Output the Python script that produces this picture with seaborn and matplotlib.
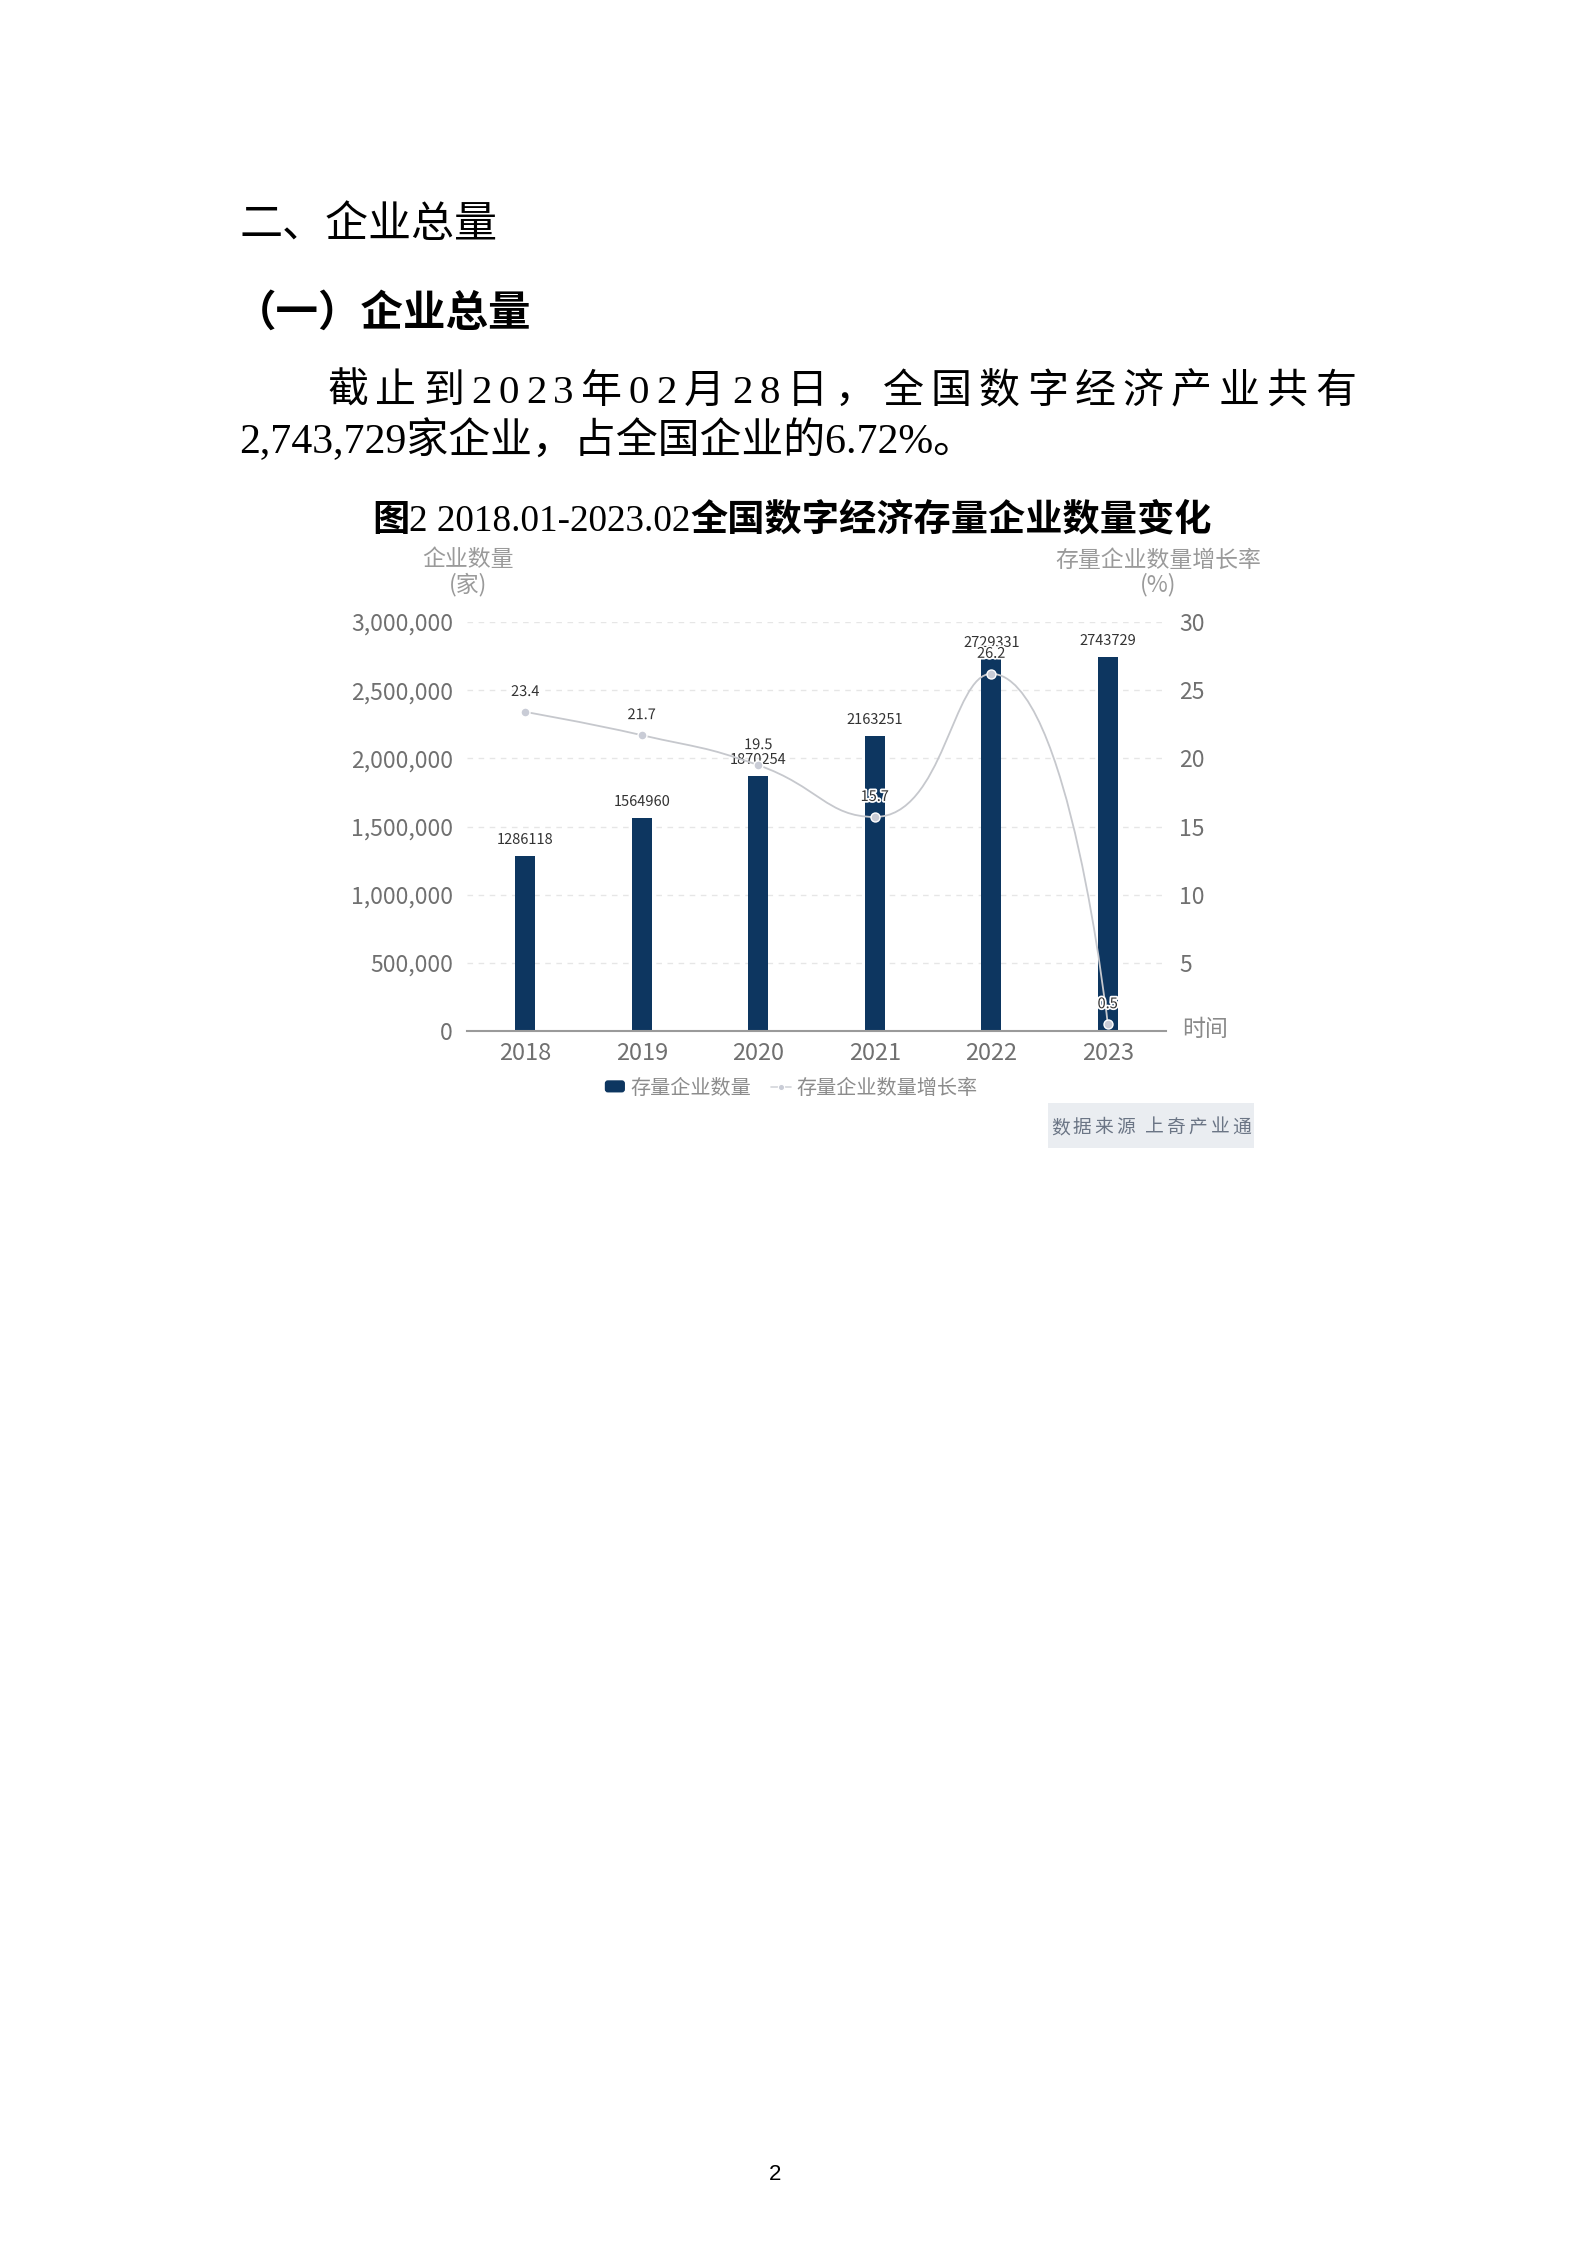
import numpy as np
import pandas as pd
import matplotlib
matplotlib.use("Agg")
import matplotlib.pyplot as plt
import seaborn as sns
from matplotlib.path import Path
from matplotlib.patches import PathPatch, Rectangle, FancyBboxPatch, Patch
from matplotlib.lines import Line2D
from matplotlib.legend_handler import HandlerPatch
import matplotlib.patheffects as pe
from matplotlib.ticker import FuncFormatter

# ---------------- data ----------------
years = ["2018", "2019", "2020", "2021", "2022", "2023"]
stock_counts = [1286118, 1564960, 1870254, 2163251, 2729331, 2743729]
growth_rates = [23.4, 21.7, 19.5, 15.7, 26.2, 0.5]
left_ticks = [0, 500000, 1000000, 1500000, 2000000, 2500000, 3000000]
right_ticks = [0, 5, 10, 15, 20, 25, 30]
bar_name = "存量企业数量"
line_name = "存量企业数量增长率"
left_axis_name = ["企业数量", "(家)"]
right_axis_name = ["存量企业数量增长率", "(%)"]
x_axis_name = "时间"
chart_title_parts = ["图", "2 2018.01-2023.02", "全国数字经济存量企业数量变化"]
heading1 = "二、企业总量"
heading2 = "（一）企业总量"
para_line1 = "截止到2023年02月28日，全国数字经济产业共有"
para_line2 = "2,743,729家企业，占全国企业的6.72%。"
source_text = "数据来源 上奇产业通"
page_no = "2"

# ---------------- style ----------------
BAR = "#0d3660"
LINE = "#c6c8cd"
MARK = "#c9ccd6"
TICK = "#707070"
NAME = "#9a9a9a"

W, H = 1586, 2244
sns.set_theme(style="white")
plt.rcParams["font.family"] = ["Noto Sans CJK SC", "DejaVu Sans"]
plt.rcParams["axes.unicode_minus"] = False

fig = plt.figure(figsize=(W / 100, H / 100), dpi=100, facecolor="white")


def fx(x):
    return x / W


def fy(y):
    return 1 - y / H


renderer = fig.canvas.get_renderer()
SERIF_CJK = ["Liberation Serif", "Noto Sans CJK SC"]


def ink_width(s, kw):
    t = fig.text(0, 0, s, **kw)
    w = t.get_window_extent(renderer=renderer).width
    t.remove()
    return w


def advance(s, kw):
    return ink_width("|" + s + "|", kw) - ink_width("||", kw)


def place_runs(units, x, y_base, gap=0.0, target=None, center=False):
    advs = [advance(s, kw) for s, kw in units]
    n = len(units)
    if target is not None and n > 1:
        gap = (target - sum(advs)) / (n - 1)
    total = sum(advs) + gap * (n - 1)
    x0 = x - total / 2 if center else x
    for (s, kw), a in zip(units, advs):
        fig.text(fx(x0), fy(y_base), s, ha="left", va="baseline", **kw)
        x0 += a + gap


# ---------------- page text ----------------
fig.text(fx(240), fy(237), heading1, ha="left", va="baseline", fontsize=31,
         color="black", family=["Noto Sans CJK SC"])
fig.text(fx(234), fy(326), heading2, ha="left", va="baseline", fontsize=30.6,
         color="black", fontweight="bold", family=["Noto Sans CJK SC"])

p_kw = dict(fontsize=29.5, color="black", family=SERIF_CJK)
place_runs([(ch, p_kw) for ch in para_line1], 327, 403, target=1029)
p2_kw = dict(fontsize=30.2, color="black", family=SERIF_CJK)
fig.text(fx(239), fy(453), para_line2, ha="left", va="baseline", **p2_kw)

t_cjk = dict(fontsize=26.8, color="black", fontweight="bold", family=["Noto Sans CJK SC"])
t_ser = dict(fontsize=26.8, color="black", family=["Liberation Serif", "Noto Sans CJK SC"])
place_runs([(chart_title_parts[0], t_cjk), (chart_title_parts[1], t_ser),
            (chart_title_parts[2], t_cjk)], 792, 531, gap=0, center=True)

fig.text(fx(775), fy(2174), page_no, ha="center", va="center", fontsize=16,
         color="black", family=["Liberation Sans"])

# ---------------- chart axes ----------------
ax_l, ax_r, ax_t, ax_b = 467, 1166, 622, 1031
ax = fig.add_axes([fx(ax_l), fy(ax_b), (ax_r - ax_l) / W, (ax_b - ax_t) / H])
ax.set_facecolor("none")

df = pd.DataFrame({"year": years, "count": stock_counts})
sns.barplot(data=df, x="year", y="count", order=years, ax=ax, color=BAR,
            width=0.172, saturation=1, edgecolor="none", linewidth=0, zorder=2)

ax.set_xlim(-0.5, len(years) - 0.5)
ax.set_ylim(left_ticks[0], left_ticks[-1])
ax.set_yticks(left_ticks)
ax.yaxis.set_major_formatter(FuncFormatter(lambda v, p: f"{int(v):,}"))
ax.set_xlabel("")
ax.set_ylabel("")
for s in ["left", "right", "top"]:
    ax.spines[s].set_visible(False)
ax.spines["bottom"].set_color("#9a9a9a")
ax.spines["bottom"].set_linewidth(1.5)
ax.spines["bottom"].set_zorder(3)
ax.tick_params(axis="y", length=0, pad=10, labelsize=16.5, labelcolor=TICK)
ax.tick_params(axis="x", length=0, pad=8, labelsize=17, labelcolor=TICK)
ax.yaxis.grid(True, color="#e6e6e6", linestyle=(0, (4, 4)), linewidth=1)
ax.xaxis.grid(False)
ax.set_axisbelow(True)

for i, c in enumerate(stock_counts):
    ax.annotate(str(c), (i, c), xytext=(0, 16), textcoords="offset pixels",
                ha="center", va="center", fontsize=10.5, color="#333333", zorder=5)

ax2 = ax.twinx()
ax2.set_ylim(right_ticks[0], right_ticks[-1])
ax2.set_yticks(right_ticks)
ax2.yaxis.set_major_formatter(FuncFormatter(lambda v, p: "" if v == 0 else f"{int(v)}"))
for s in ax2.spines.values():
    s.set_visible(False)
ax2.grid(False)
ax2.tick_params(axis="y", length=0, pad=9.5, labelsize=16.5, labelcolor=TICK)
ax2.set_ylabel("")
ax2.set_xlim(-0.5, len(years) - 0.5)

# smooth line: ECharts 5 style bezier smoothing (smooth = 0.5, clamped extremes)
xpos = np.arange(len(years))
pts = ax2.transData.transform(np.column_stack([xpos, growth_rates]))
smooth = 0.5
verts = [pts[0]]
codes = [Path.MOVETO]
cpx0, cpy0 = pts[0]
n = len(pts)
for i in range(1, n):
    x, y = pts[i]
    prevX, prevY = pts[i - 1]
    if i == n - 1:
        cpx1, cpy1 = x, y
        nextCpx0, nextCpy0 = x, y
    else:
        nextX, nextY = pts[i + 1]
        vx, vy = nextX - prevX, nextY - prevY
        lenPrev = np.hypot(x - prevX, y - prevY)
        lenNext = np.hypot(nextX - x, nextY - y)
        ratio = lenNext / (lenNext + lenPrev)
        nextCpx0 = x + vx * smooth * ratio
        nextCpy0 = y + vy * smooth * ratio
        nextCpx0 = max(min(nextCpx0, max(nextX, x)), min(nextX, x))
        nextCpy0 = max(min(nextCpy0, max(nextY, y)), min(nextY, y))
        vx, vy = nextCpx0 - x, nextCpy0 - y
        cpx1 = x - vx * lenPrev / lenNext
        cpy1 = y - vy * lenPrev / lenNext
        cpx1 = max(min(cpx1, max(prevX, x)), min(prevX, x))
        cpy1 = max(min(cpy1, max(prevY, y)), min(prevY, y))
        vx, vy = x - cpx1, y - cpy1
        nextCpx0 = x + vx * lenNext / lenPrev
        nextCpy0 = y + vy * lenNext / lenPrev
    verts += [(cpx0, cpy0), (cpx1, cpy1), (x, y)]
    codes += [Path.CURVE4] * 3
    cpx0, cpy0 = nextCpx0, nextCpy0
verts_data = ax2.transData.inverted().transform(np.array(verts))
ax2.add_patch(PathPatch(Path(verts_data, codes), facecolor="none",
                        edgecolor=LINE, linewidth=1.3, zorder=2))

sns.scatterplot(x=xpos, y=growth_rates, ax=ax2, s=42, color=MARK,
                edgecolor="white", linewidth=1, zorder=3, legend=False)
ax2.set_xlim(-0.5, len(years) - 0.5)
ax2.set_ylim(right_ticks[0], right_ticks[-1])

for i, r in enumerate(growth_rates):
    ax2.annotate(f"{r}", (i, r), xytext=(0, 20), textcoords="offset pixels",
                 ha="center", va="center", fontsize=10.5, color="#333333", zorder=6,
                 path_effects=[pe.withStroke(linewidth=2.5, foreground="white")])

# axis names
fig.text(fx(468), fy(560), left_axis_name[0], ha="center", va="center", fontsize=16.5, color=NAME)
fig.text(fx(468), fy(585), left_axis_name[1], ha="center", va="center", fontsize=16.5, color=NAME)
fig.text(fx(1158), fy(560), right_axis_name[0], ha="center", va="center", fontsize=16.5, color=NAME)
fig.text(fx(1158), fy(585), right_axis_name[1], ha="center", va="center", fontsize=16.5, color=NAME)
fig.text(fx(1182), fy(1030), x_axis_name, ha="left", va="center", fontsize=16.5, color="#8a8a8a")


# legend
class RoundHandler(HandlerPatch):
    def create_artists(self, legend, orig_handle, xdescent, ydescent, width, height, fontsize, trans):
        p = FancyBboxPatch((-xdescent, -ydescent), width, height,
                           boxstyle="round,pad=0,rounding_size=2.2",
                           facecolor=orig_handle.get_facecolor(), edgecolor="none",
                           transform=trans)
        return [p]


h_bar = Patch(facecolor=BAR)
h_line = Line2D([], [], color="#d3d5da", lw=1.2, marker="o", markersize=4.5,
                markerfacecolor=MARK, markeredgecolor="white", markeredgewidth=0.8)
fig.legend(handles=[h_bar, h_line], labels=[bar_name, line_name], loc="center",
           bbox_to_anchor=(fx(791), fy(1088)), ncol=2, frameon=False, fontsize=14.5,
           handlelength=1.0, handleheight=0.55, handletextpad=0.25, columnspacing=1.0,
           labelcolor="#8c8c8c", borderpad=0, borderaxespad=0,
           handler_map={Patch: RoundHandler()})

# source box
fig.patches.append(Rectangle((fx(1048), fy(1148)), (1254 - 1048) / W, (1148 - 1103) / H,
                             transform=fig.transFigure, facecolor="#eaedf1",
                             edgecolor="none", zorder=0))
s_kw = dict(fontsize=13.5, color="#6b7585", family=["Noto Sans CJK SC"])
place_runs([(ch, s_kw) for ch in source_text], 1151, 1133, target=200, center=True)

fig.savefig("out.png", dpi=100, facecolor="white")
